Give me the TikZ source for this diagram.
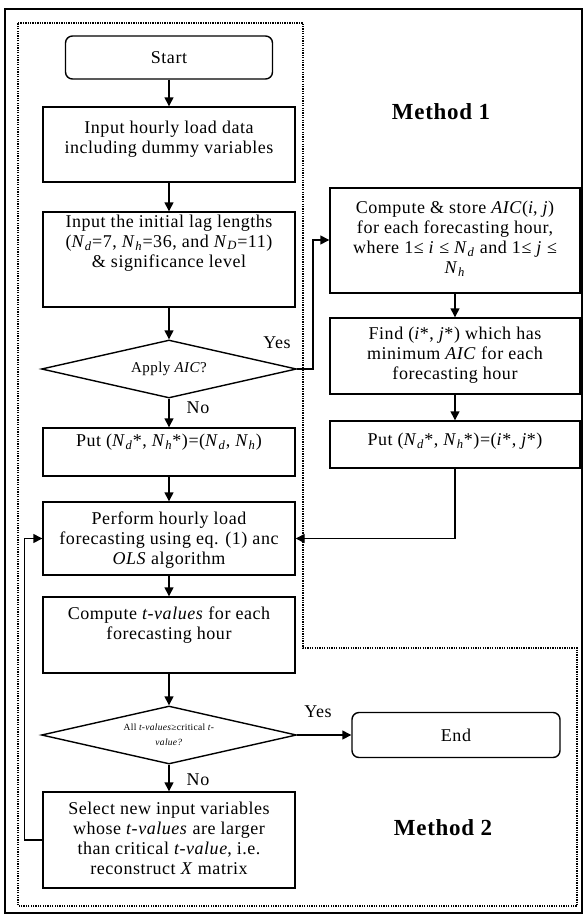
\documentclass[tikz,border=0pt]{standalone}
\usepackage{fontspec}
\setmainfont{Liberation Serif}[LetterSpace=3.0]
\usetikzlibrary{arrows.meta,shapes.geometric}
\newcommand\Nsub[1]{\textit{N}\textsubscript{\textit{#1}}}
\begin{document}
\begin{tikzpicture}[x=1pt,y=-1pt,
  box/.style={draw, line width=1.4pt, inner sep=0pt, minimum width=252pt},
  rbox/.style={draw, line width=1.4pt, inner sep=0pt, rounded corners=7pt, font=\fontsize{18}{20}\selectfont},
  txt/.style={align=center, inner sep=0pt, font=\fontsize{18}{20}\selectfont},
  dia/.style={draw, diamond, aspect=4.4, line width=1.4pt, inner sep=0pt, minimum width=255pt, minimum height=58pt, align=center},
  lbl/.style={inner sep=0pt, font=\fontsize{18}{20}\selectfont},
  meth/.style={inner sep=0pt, font=\fontsize{23}{25}\selectfont\bfseries},
  arr/.style={-{Triangle[length=9pt,width=9pt]}, line width=1.4pt}]
\useasboundingbox (0,0) rectangle (587,918);
% frames
\draw[line width=1.4pt] (5,9) rectangle (582,913);
\draw[line width=1.9pt, dash pattern=on 1.3pt off 1.1pt] (18,23) -- (303,23) -- (303,648) -- (577,648) -- (577,906) -- (18,906) -- cycle;
\node[meth] (m1) at (441,112) {Method 1};
\node[meth] (m2) at (443,828) {Method 2};
% left column
\node[rbox, minimum width=207pt, minimum height=43pt] (start) at (169,57.5) {Start};
\node[box, minimum height=75pt] (b2) at (169,144.5) {};
\node[txt] (t2) at (169,139) {Input hourly  load data\\including dummy variables};
\node[box, minimum height=95pt] (b3) at (169,259.5) {};
\node[txt] (t3) at (169,243) {Input the initial lag lengths\\(\Nsub{d}=7, \Nsub{h}=36, and \Nsub{D}=11)\\\& significance level};
\node[dia, font=\fontsize{15}{17}\selectfont] (d1) at (169,369) {Apply \textit{AIC}?};
\node[box, minimum height=48pt] (p1) at (169,452) {};
\node[txt] (tp1) at (169,442) {Put (\Nsub{d}*, \Nsub{h}*)=(\Nsub{d}, \Nsub{h})};
\node[box, minimum height=73pt] (perf) at (169,538.5) {};
\node[txt] (tperf) at (169,540) {Perform hourly load\\forecasting using eq. (1) anc\\\textit{OLS} algorithm};
\node[box, minimum height=76pt] (comp) at (169,635) {};
\node[txt] (tcomp) at (169,625) {Compute \textit{t-values} for each\\forecasting hour};
\node[dia, font=\fontsize{9.5}{15}\selectfont] (d2) at (169,735) {All \textit{t-values}≥critical \textit{t-}\\\textit{value?}};
\node[box, minimum height=96pt] (sel) at (169,840) {};
\node[txt] (tsel) at (169,838) {Select new input variables\\whose \textit{t-values} are larger\\than critical \textit{t-value}, i.e.\\reconstruct \textit{X} matrix};
% right column
\node[box, minimum width=250pt, minimum height=105pt] (aic) at (455,240.5) {};
\node[txt] (taic) at (455,239) {Compute \& store \textit{AIC}(\textit{i}, \textit{j})\\for each forecasting  hour,\\where 1≤ \textit{i} ≤ \Nsub{d} and 1≤ \textit{j} ≤\\\Nsub{h}};
\node[box, minimum width=250pt, minimum height=76pt] (find) at (455,356) {};
\node[txt] (tfind) at (455,355) {Find (\textit{i}*, \textit{j}*) which has\\minimum \textit{AIC} for each\\forecasting hour};
\node[box, minimum width=250pt, minimum height=47pt] (p2) at (455,444.5) {};
\node[txt] (tp2) at (455,441) {Put (\Nsub{d}*, \Nsub{h}*)=(\textit{i}*, \textit{j}*)};
\node[rbox, minimum width=208pt, minimum height=45pt] (end) at (456,735) {End};
% labels
\node[lbl] (yes1) at (277,343) {Yes};
\node[lbl] (no1) at (198,408) {No};
\node[lbl] (yes2) at (318,712) {Yes};
\node[lbl] (no2) at (198,780) {No};
% connectors
\coordinate (k1) at (313,240);
\draw[arr] (start) -- (b2);
\draw[arr] (b2) -- (b3);
\draw[arr] (b3) -- (d1);
\draw[arr] (d1) -- (p1);
\draw[arr] (p1) -- (perf);
\draw[arr] (perf) -- (comp);
\draw[arr] (comp) -- (d2);
\draw[arr] (d2) -- (sel);
\draw[arr] (d2) -- (end);
\draw[arr] (d1.east) -| (k1) -- (k1 -| aic.west);
\draw[arr] (aic) -- (find);
\draw[arr] (find) -- (p2);
\draw[arr] (p2.south) |- (perf.east);
\draw[arr] (sel.west) -- ++(-18,0) |- (perf.west);
\end{tikzpicture}
\end{document}
